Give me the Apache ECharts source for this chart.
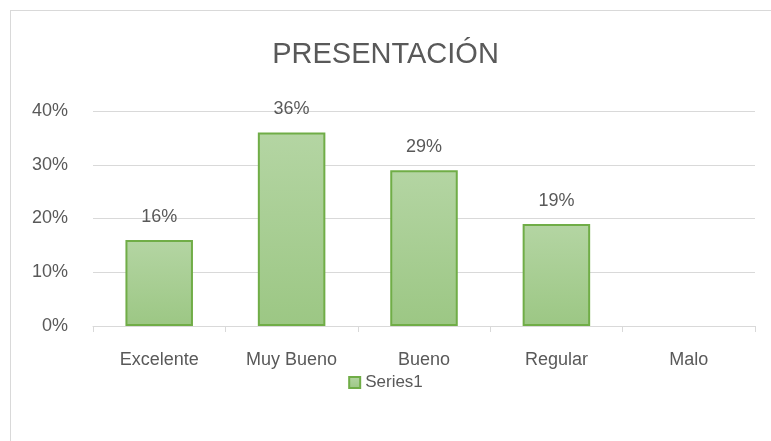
<!doctype html>
<html>
    <head>
        <meta charset="utf-8">
        <style>
            html, body { margin: 0; padding: 0; background: #fff; }
            #frame { position: absolute; left: 10px; top: 10px; width: 770px; height: 440px; border: 1px solid #d9d9d9; box-sizing: border-box; }
            #main { position: absolute; left: 0; top: 0; width: 771px; height: 441px; }
        </style>
    </head>
    <body>
        <div id="frame"></div>
        <div id="main"></div>
        <script src="https://cdn.jsdelivr.net/npm/echarts@6/dist/echarts.min.js"></script>
        <script>
            var chart = echarts.init(document.getElementById('main'));

            var categories = ['Excelente', 'Muy Bueno', 'Bueno', 'Regular', 'Malo'];
            var values = [16, 36, 29, 19, null];
            var yTicks = [0, 10, 20, 30, 40];

            var textColor = '#595959';
            var font = 'Liberation Sans';

            chart.setOption({
                title: {
                    text: 'PRESENTACIÓN',
                    left: 'center',
                    top: 35,
                    textStyle: { color: textColor, fontSize: 29, fontWeight: 'normal', fontFamily: font }
                },
                legend: {
                    bottom: 45,
                    left: 'center',
                    icon: 'rect',
                    itemWidth: 11,
                    itemHeight: 11,
                    itemGap: 4,
                    textStyle: { color: textColor, fontSize: 17, fontFamily: font },
                    data: ['Series1']
                },
                grid: { left: 93, right: 16, top: 111, bottom: 115, containLabel: false },
                xAxis: {
                    type: 'category',
                    data: categories,
                    axisLine: { lineStyle: { color: '#d9d9d9' } },
                    axisTick: { show: true, length: 6, lineStyle: { color: '#d9d9d9' } },
                    axisLabel: { color: textColor, fontSize: 18, fontFamily: font, margin: 25 }
                },
                yAxis: {
                    type: 'value',
                    min: yTicks[0],
                    max: yTicks[yTicks.length - 1],
                    interval: 10,
                    axisLine: { show: false },
                    axisTick: { show: false },
                    splitLine: { lineStyle: { color: '#d9d9d9' } },
                    axisLabel: { color: textColor, fontSize: 18, fontFamily: font, margin: 25, formatter: '{value}%' }
                },
                series: [{
                    name: 'Series1',
                    type: 'bar',
                    data: values,
                    barWidth: '51%',
                    itemStyle: {
                        color: new echarts.graphic.LinearGradient(0, 0, 0, 1, [
                            { offset: 0, color: '#b4d5a3' },
                            { offset: 1, color: '#9cc784' }
                        ]),
                        borderColor: '#70ad47',
                        borderWidth: 2
                    },
                    label: {
                        show: true,
                        position: 'top',
                        distance: 14,
                        color: textColor,
                        fontSize: 18,
                        fontFamily: font,
                        formatter: '{c}%'
                    },
                    silent: true
                }]
            });

            window.onresize = chart.resize;
        </script>
    </body>
</html>
